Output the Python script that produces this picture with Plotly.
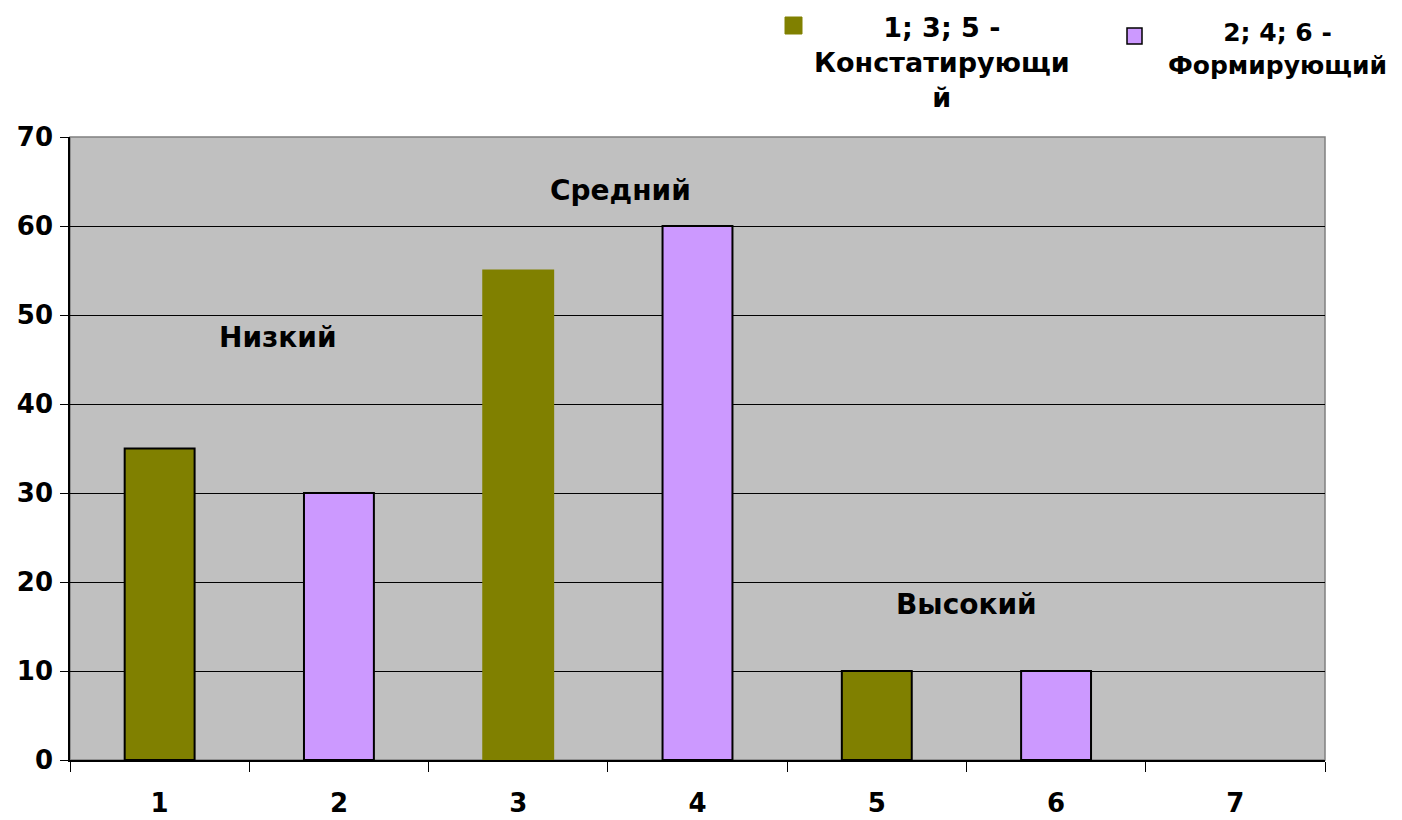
import plotly.graph_objects as go

categories = ["1", "2", "3", "4", "5", "6", "7"]
konst_x = ["1", "3", "5"]
konst_y = [35, 55, 10]
form_x = ["2", "4", "6"]
form_y = [30, 60, 10]
y_ticks = [0, 10, 20, 30, 40, 50, 60, 70]
level_labels = ["Низкий", "Средний", "Высокий"]
level_pos = [(0.66, 47.5), (2.57, 64), (4.5, 17.5)]
legend_names = ["1; 3; 5 -<br>Констатирующи<br>й", "2; 4; 6 -<br>Формирующий"]

OLIVE = "#808000"
LAV = "#CC99FF"
FONT = "DejaVu Sans"

L, R, T, B = 62, 85, 129, 68
PW, PH = 1402 - L - R, 820 - T - B


def px(xpage):
    return (xpage - 8 - L) / PW


def py(ypage):
    return (820 - B - (ypage - 8)) / PH


fig = go.Figure()
fig.add_trace(go.Bar(x=konst_x, y=konst_y, width=0.39,
                     marker=dict(color=OLIVE, line=dict(color=["black", OLIVE, "black"], width=2)),
                     name="1; 3; 5 - Констатирующий", showlegend=False))
fig.add_trace(go.Bar(x=form_x, y=form_y, width=0.39,
                     marker=dict(color=LAV, line=dict(color="black", width=2)),
                     name="2; 4; 6 - Формирующий", showlegend=False))

fig.update_layout(
    width=1402, height=820,
    margin=dict(l=L, r=R, t=T, b=B, autoexpand=False),
    paper_bgcolor="white", plot_bgcolor="#C0C0C0",
    barmode="overlay",
    font=dict(family=FONT, color="black"),
    xaxis=dict(type="category", categoryorder="array", categoryarray=categories,
               range=[-0.5, 6.5], tickson="boundaries", ticks="outside", ticklen=10,
               tickcolor="black", showline=True, linecolor="black", linewidth=1.5,
               showgrid=False, tickfont=dict(size=26, family=FONT, weight="bold"),
               ticklabelstandoff=19, automargin=False),
    yaxis=dict(range=[0, 70], tickvals=y_ticks, ticks="outside", ticklen=8,
               tickcolor="black", showline=True, linecolor="black", linewidth=1.5,
               showgrid=True, gridcolor="black", gridwidth=1, zeroline=False,
               tickfont=dict(size=26, family=FONT, weight="bold"), ticklabelstandoff=2,
               automargin=False),
)

# plot area border
fig.add_shape(type="rect", xref="paper", yref="paper", x0=0, x1=1, y0=0, y1=1,
              line=dict(color="#808080", width=1.5), layer="below")

for txt, (ax, ay) in zip(level_labels, level_pos):
    fig.add_annotation(x=ax, y=ay, xref="x", yref="y", text=txt, showarrow=False,
                       font=dict(size=28, family=FONT, weight="bold"))

# manual legend
fig.add_shape(type="rect", xref="paper", yref="paper",
              x0=px(785), x1=px(802), y0=py(34), y1=py(17),
              fillcolor=OLIVE, line=dict(color=OLIVE, width=1))
fig.add_shape(type="rect", xref="paper", yref="paper",
              x0=px(1127), x1=px(1142), y0=py(44), y1=py(28),
              fillcolor=LAV, line=dict(color="black", width=1.5))
fig.add_annotation(x=px(942), y=py(10), xref="paper", yref="paper",
                   text=legend_names[0], showarrow=False, align="center",
                   xanchor="center", yanchor="top",
                   font=dict(size=27, family=FONT, weight="bold"))
fig.add_annotation(x=px(1277), y=py(16), xref="paper", yref="paper",
                   text=legend_names[1], showarrow=False, align="center",
                   xanchor="center", yanchor="top",
                   font=dict(size=25, family=FONT, weight="bold"))

fig.write_html("out.html")
